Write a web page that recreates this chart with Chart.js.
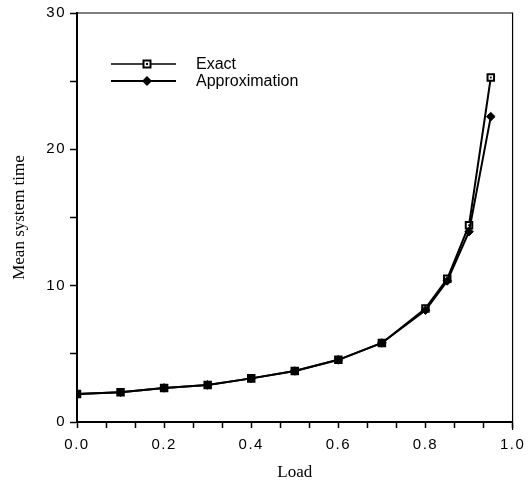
<!DOCTYPE html>
<html>
<head>
<meta charset="utf-8">
<script src="https://cdn.jsdelivr.net/npm/chart.js@4/dist/chart.umd.min.js"></script>
<style>
  html, body { margin: 0; padding: 0; background: #fff; }
  #wrap { width: 531px; height: 483px; }
</style>
</head>
<body>
<div id="wrap"><canvas id="chart"></canvas></div>
<script>
// data
const loads = [0.0, 0.1, 0.2, 0.3, 0.4, 0.5, 0.6, 0.7, 0.8, 0.85, 0.9, 0.95];
const exact = [2.06, 2.18, 2.5, 2.72, 3.2, 3.74, 4.56, 5.8, 8.33, 10.5, 14.44, 25.27];
const approx = [2.06, 2.18, 2.5, 2.72, 3.2, 3.74, 4.56, 5.8, 8.2, 10.35, 13.96, 22.4];
const seriesNames = ["Exact", "Approximation"];
const xTicks = [0.0, 0.2, 0.4, 0.6, 0.8, 1.0];
const yTicks = [0, 10, 20, 30];

const toPts = (ys) => ys.map((y, i) => ({ x: loads[i], y: y }));

const isMajor = (v, list) => list.some((t) => Math.abs(t - v) < 1e-6);

// frame on top/right + legend drawn inside plot
const framePlugin = {
  id: "frame",
  afterDatasetsDraw(chart) {
    chart.ctx.letterSpacing = "1.5px"; // spaced-out tick digits
  },
  afterDraw(chart) {
    const { ctx, chartArea: a } = chart;
    ctx.save();
    ctx.letterSpacing = "0px";
    ctx.strokeStyle = "#000";
    ctx.lineWidth = 1.2;
    ctx.beginPath();
    ctx.moveTo(a.left, a.top);
    ctx.lineTo(a.right, a.top);
    ctx.lineTo(a.right, a.bottom + 8);
    ctx.stroke();

    // legend
    const lx0 = 111, lx1 = 176, mx = 147;
    ctx.lineWidth = 1.3;
    ctx.beginPath(); ctx.moveTo(lx0, 64); ctx.lineTo(lx1, 64); ctx.stroke();
    ctx.fillStyle = "#fff";
    ctx.lineWidth = 2;
    ctx.fillRect(mx - 3.5, 64 - 3.5, 7, 7);
    ctx.strokeRect(mx - 3.5, 64 - 3.5, 7, 7);
    ctx.fillStyle = "#000";
    ctx.fillRect(mx - 1, 63, 2, 2);

    ctx.lineWidth = 2;
    ctx.beginPath(); ctx.moveTo(lx0, 81); ctx.lineTo(lx1, 81); ctx.stroke();
    ctx.beginPath();
    ctx.moveTo(mx - 5, 81); ctx.lineTo(mx, 76); ctx.lineTo(mx + 5, 81); ctx.lineTo(mx, 86);
    ctx.closePath(); ctx.fill();

    ctx.font = "16px 'Liberation Sans', Arial, sans-serif";
    ctx.textBaseline = "middle";
    ctx.fillText(seriesNames[0], 196, 65);
    ctx.fillText(seriesNames[1], 196, 82);
    ctx.restore();
  },
};

new Chart(document.getElementById("chart"), {
  type: "scatter",
  data: {
    datasets: [
      {
        label: seriesNames[1],
        data: toPts(approx),
        showLine: true,
        borderColor: "#000",
        backgroundColor: "#000",
        borderWidth: 2,
        pointStyle: "rectRot",
        pointRadius: 4.3,
        pointBorderWidth: 1,
      },
      {
        label: "dot",
        data: toPts(exact),
        showLine: false,
        backgroundColor: "#000",
        borderColor: "#000",
        pointStyle: "circle",
        pointRadius: 1,
        pointBorderWidth: 0,
      },
      {
        label: seriesNames[0],
        data: toPts(exact),
        showLine: true,
        borderColor: "#000",
        backgroundColor: "#fff",
        borderWidth: 2,
        pointStyle: "rect",
        pointRadius: 4.6,
        pointBorderWidth: 2,
      },
    ],
  },
  options: {
    responsive: true,
    maintainAspectRatio: false,
    animation: false,
    events: [],
    layout: { padding: { top: 10, right: 18, left: 0, bottom: 0 } },
    plugins: {
      legend: { display: false },
      tooltip: { enabled: false },
    },
    scales: {
      x: {
        type: "linear",
        min: 0,
        max: 1,
        afterFit: (s) => { s.height = 61; },
        border: { color: "#000", width: 2 },
        grid: { drawOnChartArea: false, drawTicks: true, tickLength: 6, tickColor: "#000", tickWidth: 1.5 },
        ticks: {
          stepSize: 1 / 15,
          autoSkip: false,
          maxRotation: 0,
          z: 1,
          padding: 8,
          color: "#000",
          font: { family: "'Liberation Sans', Arial, sans-serif", size: 15 },
          callback: (v) => (isMajor(v, xTicks) ? v.toFixed(1) : ""),
        },
        title: {
          display: true,
          text: "Load",
          color: "#000",
          font: { family: "'Liberation Serif', 'Times New Roman', serif", size: 17 },
          padding: { top: 0, bottom: 0 },
        },
      },
      y: {
        type: "linear",
        min: 0,
        max: 30,
        afterFit: (s) => { s.width = 77; },
        border: { color: "#000", width: 2 },
        grid: { drawOnChartArea: false, drawTicks: true, tickLength: 7, tickColor: "#000", tickWidth: 1.5 },
        ticks: {
          stepSize: 5,
          autoSkip: false,
          z: 1,
          padding: 4,
          color: "#000",
          font: { family: "'Liberation Sans', Arial, sans-serif", size: 15 },
          callback: (v) => (isMajor(v, yTicks) ? String(v) : ""),
        },
        title: {
          display: true,
          text: "Mean system time",
          color: "#000",
          font: { family: "'Liberation Serif', 'Times New Roman', serif", size: 17 },
          padding: { top: 9, bottom: 0 },
        },
      },
    },
  },
  plugins: [framePlugin],
});
</script>
</body>
</html>
